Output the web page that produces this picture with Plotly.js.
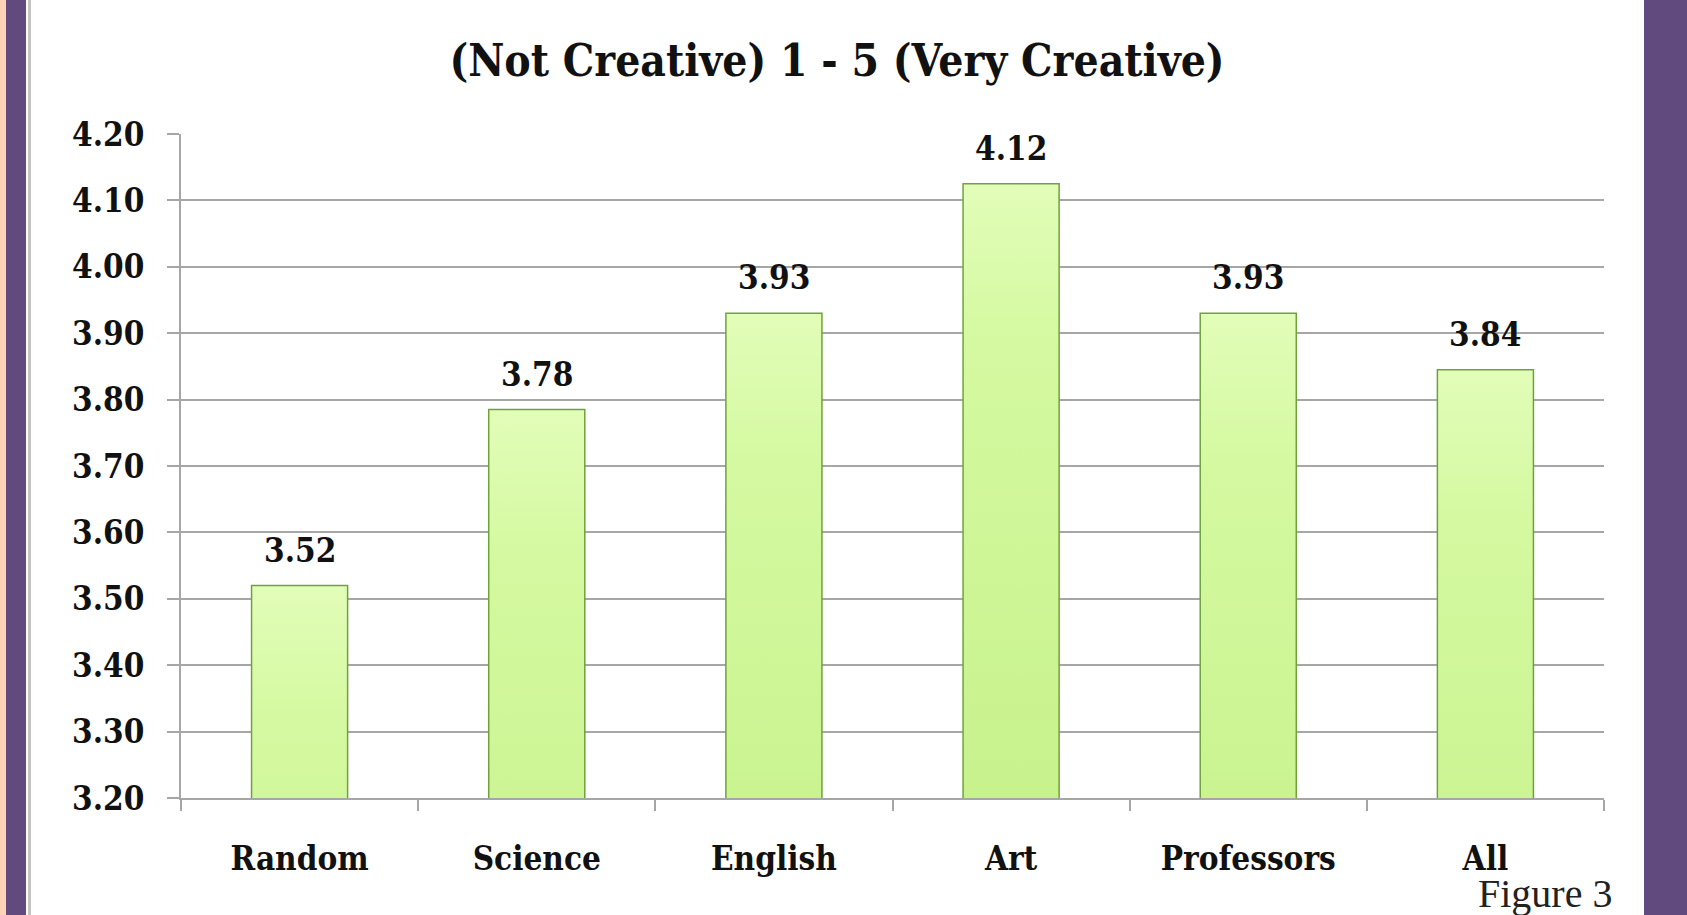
<!DOCTYPE html>
<html>
<head>
<meta charset="utf-8">
<script src="https://cdn.plot.ly/plotly-3.0.1.min.js"></script>
<style>
  html, body { margin:0; padding:0; width:1687px; height:915px; overflow:hidden; background:#ffffff; }
  #wrap { position:relative; width:1687px; height:915px; }
  #chart { position:absolute; left:0; top:0; width:1687px; height:915px; }
  .deco { position:absolute; }
</style>
</head>
<body>
<div id="wrap">
  <div id="chart"></div>
  <div class="deco" style="left:0;top:0;width:6px;height:915px;background:#fdd5b6;"></div>
  <div class="deco" style="left:6px;top:0;width:20px;height:915px;background:#614a7d;"></div>
  <div class="deco" style="left:28px;top:0;width:3px;height:915px;background:#c4c4c4;"></div>
  <div class="deco" style="left:1644px;top:0;width:43px;height:915px;background:#614a7d;"></div>
</div>
<script>
const categories = ["Random", "Science", "English", "Art", "Professors", "All"];
const barValues = [3.52, 3.785, 3.93, 4.125, 3.93, 3.845];
const valueLabels = ["3.52", "3.78", "3.93", "4.12", "3.93", "3.84"];
const yTickValues = [3.2, 3.3, 3.4, 3.5, 3.6, 3.7, 3.8, 3.9, 4.0, 4.1, 4.2];
const titleText = "(Not Creative) 1 - 5 (Very Creative)";
const figureCaption = "Figure 3";

const serif = '"DejaVu Serif Condensed", "DejaVu Serif", "Liberation Serif", serif';

const trace = {
  type: "bar",
  x: categories,
  y: barValues,
  marker: { color: "#b8ea76", line: { color: "#6fa33a", width: 1.5 } },
  hoverinfo: "skip",
  cliponaxis: false
};

const annotations = categories.map((c, i) => ({
  x: c, y: barValues[i], xref: "x", yref: "y",
  text: valueLabels[i], showarrow: false,
  yanchor: "bottom", yshift: 14,
  font: { family: serif, size: 33, color: "#111111", weight: "bold" }
}));
annotations.push({
  xref: "paper", yref: "paper", x: (1614 - 181) / 1423, y: (798 - 893) / 664,
  xanchor: "right", yanchor: "middle", showarrow: false,
  text: figureCaption,
  font: { family: '"Liberation Serif", "DejaVu Serif", serif', size: 40, color: "#222222" }
});

const layout = {
  width: 1687, height: 915,
  margin: { l: 181, r: 83, t: 134, b: 117, pad: 0 },
  paper_bgcolor: "rgba(0,0,0,0)",
  plot_bgcolor: "#ffffff",
  showlegend: false,
  bargap: 0.595,
  title: {
    text: titleText,
    x: 837 / 1687, xanchor: "center", xref: "container",
    y: 1 - 61 / 915, yanchor: "middle", yref: "container",
    font: { family: serif, size: 44, color: "#111111", weight: "bold" }
  },
  xaxis: {
    type: "category",
    range: [-0.5, 5.5],
    tickson: "boundaries",
    ticks: "outside", ticklen: 11, tickwidth: 2, tickcolor: "#a6a6a6",
    showline: true, linecolor: "#a6a6a6", linewidth: 2,
    showgrid: false, zeroline: false,
    ticklabelstandoff: 30,
    tickfont: { family: serif, size: 33, color: "#111111", weight: "bold" }
  },
  yaxis: {
    range: [3.2, 4.2],
    tickvals: yTickValues,
    tickformat: ".2f",
    ticks: "outside", ticklen: 12, tickwidth: 2, tickcolor: "#a6a6a6",
    showline: true, linecolor: "#a6a6a6", linewidth: 2,
    showgrid: true, gridcolor: "#a6a6a6", gridwidth: 2,
    zeroline: false,
    ticklabelstandoff: 16,
    tickfont: { family: serif, size: 33, color: "#111111", weight: "bold" }
  },
  annotations: annotations
};

function applyGradient(gd) {
  const svgNS = "http://www.w3.org/2000/svg";
  const svg = gd.querySelector("svg.main-svg");
  let defs = svg.querySelector("defs");
  if (!defs) { defs = document.createElementNS(svgNS, "defs"); svg.insertBefore(defs, svg.firstChild); }
  if (!svg.querySelector("#barGradX")) {
    const grad = document.createElementNS(svgNS, "linearGradient");
    grad.setAttribute("id", "barGradX");
    grad.setAttribute("gradientUnits", "objectBoundingBox");
    grad.setAttribute("x1", "0"); grad.setAttribute("y1", "0");
    grad.setAttribute("x2", "0"); grad.setAttribute("y2", "1");
    [["0", "#e2fdb8"], ["0.06", "#d4f9a0"], ["0.45", "#b6e870"], ["1", "#8ed23e"]].forEach(function (s) {
      const st = document.createElementNS(svgNS, "stop");
      st.setAttribute("offset", s[0]); st.setAttribute("stop-color", s[1]);
      grad.appendChild(st);
    });
    defs.appendChild(grad);
  }
  gd.querySelectorAll(".bars .point path").forEach(function (p) {
    p.style.setProperty("fill", "url(#barGradX)", "important");
    p.style.setProperty("fill-opacity", "1", "important");
  });
}

Plotly.newPlot("chart", [trace], layout, { staticPlot: true, displayModeBar: false }).then(function (gd) {
  applyGradient(gd);
  setTimeout(function () { applyGradient(gd); }, 50);
});
</script>
</body>
</html>
